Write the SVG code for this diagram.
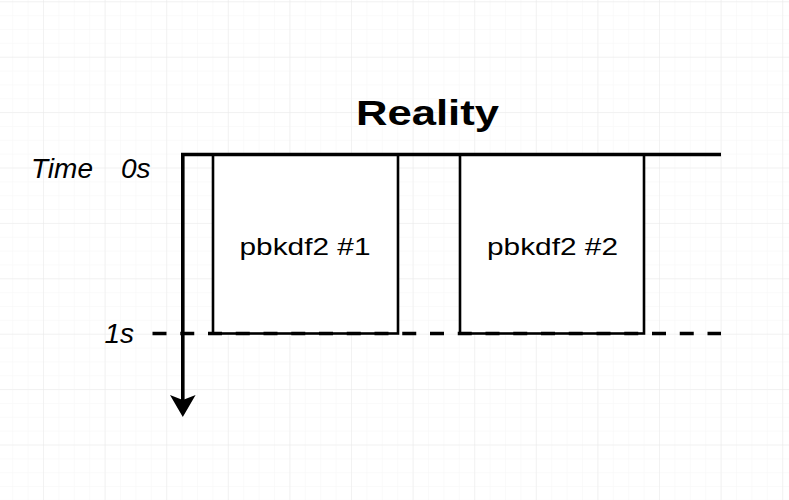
<svg xmlns="http://www.w3.org/2000/svg" width="789" height="500" viewBox="0 0 789 500">
  <style>
    .lbl { font-family: "Liberation Sans", Arial, sans-serif; fill: #000; }
    .it { font-style: italic; font-size: 28px; }
    .box { fill: #fff; stroke: #000; stroke-width: 2.6; }
    .ln { fill: none; stroke: #000; stroke-width: 3.6; }
  </style>
  <defs>
    <pattern id="minor" patternUnits="userSpaceOnUse" x="43" y="1.3" width="15.4" height="13.85">
      <path d="M0,0 V13.85 M0,0 H15.4" fill="none" stroke="#f6f6f6" stroke-width="1"/>
    </pattern>
    <pattern id="major" patternUnits="userSpaceOnUse" x="43" y="1.3" width="61.6" height="55.4">
      <path d="M0,0 V55.4 M0,0 H61.6" fill="none" stroke="#e9e9e9" stroke-width="1"/>
    </pattern>
  </defs>
  <rect width="789" height="500" fill="#fff"/>
  <rect width="789" height="500" fill="url(#minor)"/>
  <rect width="789" height="500" fill="url(#major)"/>

  <g id="title">
    <text class="lbl" x="427.5" y="125" font-size="35.5" font-weight="bold" text-anchor="middle" textLength="143" lengthAdjust="spacingAndGlyphs">Reality</text>
  </g>
  <g id="time-label">
    <text class="lbl it" x="31" y="177.5">Time</text>
    <text class="lbl it" x="121" y="177.5">0s</text>
  </g>
  <g id="one-second-label">
    <text class="lbl it" x="134" y="343" text-anchor="end">1s</text>
  </g>

  <g id="pbkdf2-1">
    <rect class="box" x="213" y="154.5" width="185" height="179"/>
    <text class="lbl" x="305" y="254.5" font-size="24.5" text-anchor="middle" textLength="131" lengthAdjust="spacingAndGlyphs">pbkdf2 #1</text>
  </g>
  <g id="pbkdf2-2">
    <rect class="box" x="460" y="154.5" width="184" height="179"/>
    <text class="lbl" x="552.5" y="254.5" font-size="24.5" text-anchor="middle" textLength="131" lengthAdjust="spacingAndGlyphs">pbkdf2 #2</text>
  </g>

  <g id="connectors">
    <line class="ln" x1="152.5" y1="333.5" x2="721" y2="333.5" stroke-dasharray="14 13.75"/>
    <path class="ln" d="M721,154.5 H182.8 V402" stroke-linejoin="miter"/>
    <polygon points="170,395 182.8,400 195.6,395 182.8,417" fill="#000"/>
  </g>
</svg>
